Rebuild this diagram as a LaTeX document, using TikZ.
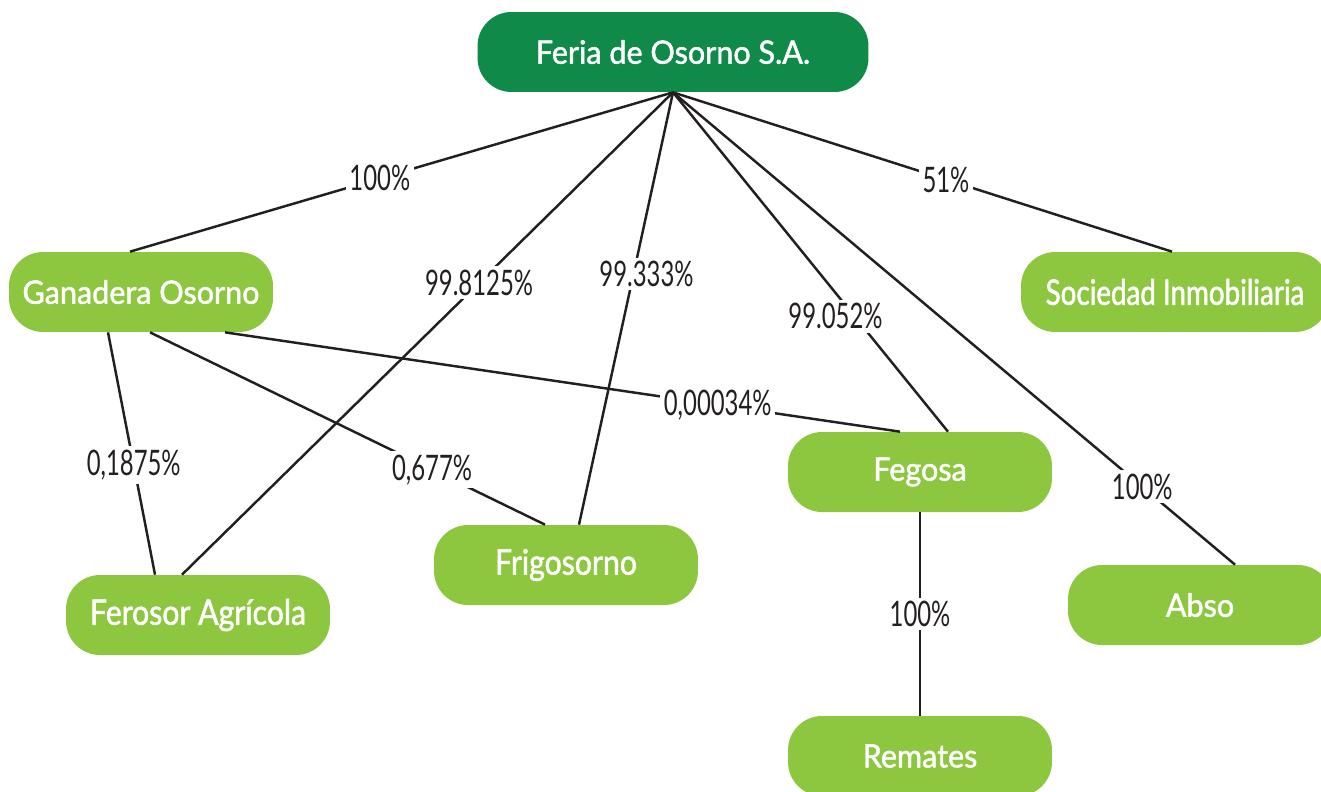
\documentclass[tikz,border=0pt]{standalone}
\usepackage{fontspec}
\setmainfont{Lato}
\newfontfamily\boxfont[FakeBold=1.5,FakeStretch=0.95]{Lato}
\newfontfamily\boxcond[FakeBold=1.5,FakeStretch=0.86]{Lato}
\newfontfamily\boxnarrow[FakeBold=1.5,FakeStretch=0.79]{Lato}
\newfontfamily\pctfont[FakeStretch=0.68]{Lato}
\usepackage{tikz}
\usetikzlibrary{positioning}
\definecolor{darkgreen}{RGB}{16,138,72}
\definecolor{lightgreen}{RGB}{141,198,63}
\definecolor{ink}{RGB}{35,31,32}

\begin{document}
\begin{tikzpicture}[x=0.02cm,y=-0.02cm]
		\tikzstyle{box} = [rectangle, rounded corners=0.68cm, minimum width=5.28cm, minimum height=1.6cm, fill=lightgreen, text=white, font=\boxfont\fontsize{18.3}{20}\selectfont, inner sep=0]
		\tikzstyle{topbox} = [box, fill=darkgreen, minimum width=7.82cm]
		\tikzstyle{cond} = [font=\boxcond\fontsize{20}{22}\selectfont]
		\tikzstyle{narrow} = [font=\boxnarrow\fontsize{20}{22}\selectfont]
		\tikzstyle{line} = [draw=ink, line width=1.4pt]
		\tikzstyle{pct} = [fill=white, text=ink, inner sep=2pt, font=\pctfont\fontsize{20}{22}\selectfont]
		\useasboundingbox (0,0) rectangle (1321,791);
		\node [topbox] (feria) at (673,52) {Feria de Osorno S.A.};
		\node [box] (gan) at (141,292) {Ganadera Osorno};
		\node [box, narrow, minimum width=6.16cm] (soc) at (1175,292) {Sociedad Inmobiliaria};
		\node [box] (fegosa) at (920,472) {Fegosa};
		\node [box, cond] (frigo) at (566,565) {Frigosorno};
		\node [box, cond] (ferosor) at (198,615) {Ferosor Agrícola};
		\node [box] (abso) at (1200,605) {Abso};
		\node [box] (remates) at (920,756) {Remates};
		% lines from the parent
		\draw [line] (feria.south) edge node [pct, pos=0.54] {100\%} ([xshift=-0.22cm]gan.north);
		\draw [line] (feria.south) edge node [pct, pos=0.395] {99.8125\%} ([xshift=-0.32cm]ferosor.north);
		\draw [line] (feria.south) edge node [pct, pos=0.42, xshift=0.26cm] {99.333\%} ([xshift=0.26cm]frigo.north);
		\draw [line] (feria.south) edge node [pct, pos=0.66, xshift=-0.38cm] {99.052\%} ([xshift=0.56cm]fegosa.north);
		\draw [line] (feria.south) edge node [pct, pos=0.547] {51\%} ([xshift=-0.06cm]soc.north);
		\draw [line] (feria.south) edge node [pct, pos=0.835] {100\%} ([xshift=0.7cm]abso.north);
		% lines from Ganadera
		\draw [line] ([xshift=-0.66cm]gan.south) edge node [pct, pos=0.547] {0,1875\%} ([xshift=-0.86cm]ferosor.north);
		\draw [line] ([xshift=0.18cm]gan.south) edge node [pct, pos=0.714] {0,677\%} ([xshift=-0.42cm]frigo.north);
		\draw [line] ([xshift=1.68cm]gan.south) edge node [pct, pos=0.73] {0,00034\%} ([xshift=-0.4cm]fegosa.north);
		\draw [line] (fegosa.south) edge node [pct, pos=0.5] {100\%} (remates.north);
\end{tikzpicture}
\end{document}
